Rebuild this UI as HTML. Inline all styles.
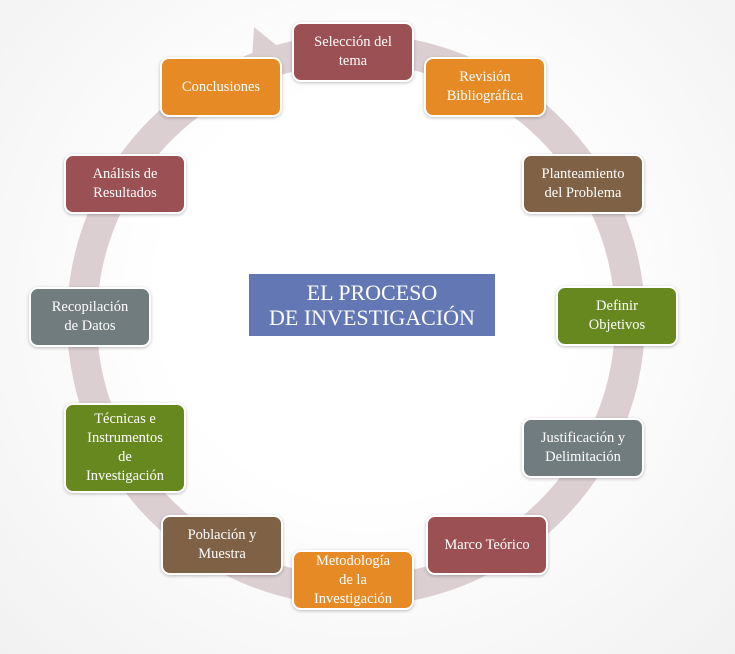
<!DOCTYPE html>
<html><head><meta charset="utf-8"><style>
body{margin:0;width:735px;height:654px;background:radial-gradient(ellipse at 50% 45%,#ffffff 40%,#f1f1f1 100%);position:relative;overflow:hidden;font-family:"Liberation Serif",serif}
.b{position:absolute;width:118px;height:56px;border:2px solid #fff;border-radius:9px;color:#fff;font-size:14.5px;line-height:19px;display:flex;align-items:center;justify-content:center;text-align:center;box-shadow:0 1px 3px rgba(0,0,0,.25);box-sizing:content-box}
.r{background:#9b5053}.o{background:#e68a26}.br{background:#7f6146}.g{background:#66881f}.gy{background:#707c7d}
#c{position:absolute;left:249px;top:274px;width:246px;height:62px;background:#6277b4;color:#fff;font-size:22px;line-height:25px;text-align:center;display:flex;align-items:center;justify-content:center}
</style></head><body>
<svg width="735" height="654" style="position:absolute;left:0;top:0">
<ellipse cx="356" cy="320" rx="274" ry="271" fill="none" stroke="#dccfd2" stroke-width="30"/>
<polygon points="254,27 292,58 250,96" fill="#dccfd2"/>
</svg>
<div class="b r" style="left:292px;top:22px">Selección del<br>tema</div>
<div class="b o" style="left:424px;top:57px">Revisión<br>Bibliográfica</div>
<div class="b br" style="left:522px;top:154px">Planteamiento<br>del Problema</div>
<div class="b g" style="left:556px;top:286px">Definir<br>Objetivos</div>
<div class="b gy" style="left:522px;top:418px">Justificación y<br>Delimitación</div>
<div class="b r" style="left:426px;top:515px">Marco Teórico</div>
<div class="b o" style="left:292px;top:550px">Metodología<br>de la<br>Investigación</div>
<div class="b br" style="left:161px;top:515px">Población y<br>Muestra</div>
<div class="b g" style="left:64px;top:403px;height:86px">Técnicas e<br>Instrumentos<br>de<br>Investigación</div>
<div class="b gy" style="left:29px;top:287px">Recopilación<br>de Datos</div>
<div class="b r" style="left:64px;top:154px">Análisis de<br>Resultados</div>
<div class="b o" style="left:160px;top:57px">Conclusiones</div>
<div id="c">EL PROCESO<br>DE INVESTIGACIÓN</div>
</body></html>
